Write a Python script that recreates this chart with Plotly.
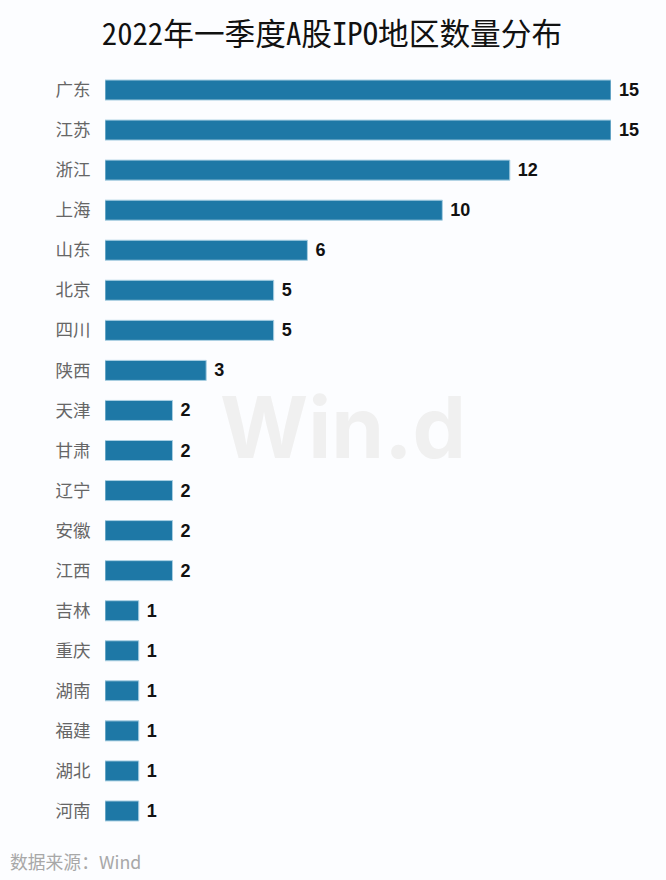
import plotly.graph_objects as go

regions = ["广东", "江苏", "浙江", "上海", "山东", "北京", "四川", "陕西", "天津", "甘肃",
           "辽宁", "安徽", "江西", "吉林", "重庆", "湖南", "福建", "湖北", "河南"]
counts = [15, 15, 12, 10, 6, 5, 5, 3, 2, 2, 2, 2, 2, 1, 1, 1, 1, 1, 1]

W = 666
H = 880
BG = "#fcfdff"
CJK = "Noto Sans CJK SC, sans-serif"

fig = go.Figure(go.Bar(
    x=counts,
    y=regions,
    orientation="h",
    width=0.5,
    marker=dict(color="#1e78a6", line=dict(color="#a9cfe2", width=1)),
    text=[f" {c}" for c in counts],
    textposition="outside",
    textfont=dict(family="Liberation Sans, Arial", size=18, color="#111111", weight="bold"),
    cliponaxis=False,
))

fig.update_xaxes(range=[0, 15], visible=False, domain=[105 / W, 611 / W])
fig.update_yaxes(
    autorange="reversed",
    domain=[1 - 831 / H, 1 - 70 / H],
    showline=False,
    showgrid=False,
    ticks="outside",
    ticklen=10,
    tickcolor="rgba(0,0,0,0)",
    tickfont=dict(family=CJK, size=17.5, color="#666666"),
)

fig.update_layout(
    width=W,
    height=H,
    margin=dict(l=0, r=0, t=0, b=0),
    paper_bgcolor=BG,
    plot_bgcolor=BG,
    showlegend=False,
    title=dict(
        text="2022年一季度A股IPO地区数量分布",
        font=dict(family="Noto Sans Mono CJK SC, Noto Sans CJK SC, sans-serif", size=30.7, color="#111111"),
        x=332 / W,
        xanchor="center",
        y=1 - 34 / H,
        yanchor="middle",
    ),
    annotations=[
        dict(text="Win.d", xref="paper", yref="paper", x=343 / W, y=1 - 427 / H,
             showarrow=False, xanchor="center", yanchor="middle",
             font=dict(family="Inter, Liberation Sans", size=85, color="#f0f0f0", weight="bold")),
        dict(text="数据来源：Wind", xref="paper", yref="paper", x=8 / W, y=1 - 861 / H,
             showarrow=False, xanchor="left", yanchor="middle",
             font=dict(family=CJK, size=17.8, color="#a8a8a8")),
    ],
)

fig.write_html("out.html", config=dict(displayModeBar=False),
               post_script="document.body.style.margin = '0';")
